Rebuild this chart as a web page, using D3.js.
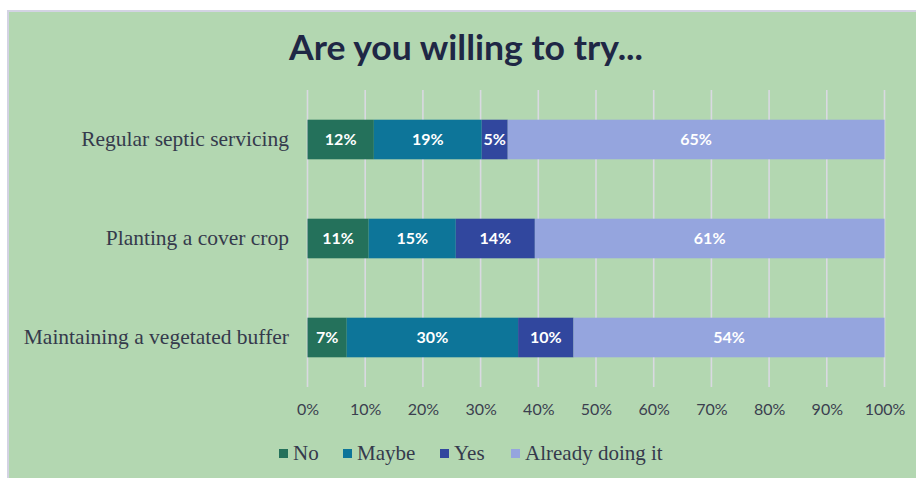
<!DOCTYPE html>
<html><head><meta charset="utf-8">
<script src="https://cdn.jsdelivr.net/npm/d3@7"></script>
<style>html,body{margin:0;padding:0;background:#fff;}svg{display:block;}</style>
</head><body>
<svg id="c" width="916" height="478"></svg>
<script>
const categories = ["Regular septic servicing", "Planting a cover crop", "Maintaining a vegetated buffer"];
const seriesNames = ["No", "Maybe", "Yes", "Already doing it"];
const noVals = [11.5, 10.6, 6.8];
const maybeVals = [18.7, 15.1, 29.7];
const yesVals = [4.5, 13.7, 9.6];
const alreadyVals = [65.3, 60.6, 53.9];
const tickLabels = ["0%","10%","20%","30%","40%","50%","60%","70%","80%","90%","100%"];
const colors = ["#24715b", "#0d7599", "#31479e", "#95a5de"];

const svg = d3.select("#c");
svg.append("rect").attr("x",8).attr("y",11).attr("width",916).attr("height",478)
  .attr("fill","#b3d7b1").attr("stroke","#d3d3e3").attr("stroke-width",2);

svg.append("text").attr("x",466).attr("y",60).attr("text-anchor","middle")
  .attr("font-family","Lato").attr("font-weight","bold").attr("font-size",35)
  .attr("fill","#1f2745").attr("textLength",354).attr("lengthAdjust","spacingAndGlyphs")
  .text("Are you willing to try...");

const x = d3.scaleLinear().domain([0,100]).range([307.5,884.5]);
const y = d3.scaleBand().domain(categories).range([90,387]).paddingInner(0.6).paddingOuter(0.3);

// gridlines
svg.append("g").selectAll("line").data(d3.range(0,101,10)).join("line")
  .attr("x1",d=>x(d)).attr("x2",d=>x(d)).attr("y1",90).attr("y2",387)
  .attr("stroke","#d9d9e1").attr("stroke-width",1.6);

// tick labels via axis
const ax = svg.append("g").attr("transform","translate(0,387)")
  .call(d3.axisBottom(x).tickValues(d3.range(0,101,10)).tickFormat((d,i)=>tickLabels[i]).tickSize(0).tickPadding(17));
ax.select(".domain").remove();
ax.selectAll("text").attr("font-family","Lato").attr("font-size",16).attr("fill","#3b3f4f");

// category labels
const ay = svg.append("g").attr("transform","translate(307,0)")
  .call(d3.axisLeft(y).tickSize(0).tickPadding(18));
ay.select(".domain").remove();
ay.selectAll("text").attr("font-family","Liberation Serif").attr("font-size",21.5).attr("fill","#353a4c");

const rows = categories.map((c,i)=>({cat:c, No:noVals[i], Maybe:maybeVals[i], Yes:yesVals[i], "Already doing it":alreadyVals[i]}));
const stack = d3.stack().keys(seriesNames)(rows);

const g = svg.append("g");
stack.forEach((s,si)=>{
  g.selectAll(null).data(s).join("rect")
    .attr("x",d=>x(d[0])).attr("width",d=>x(d[1])-x(d[0]))
    .attr("y",d=>y(d.data.cat)).attr("height",y.bandwidth())
    .attr("fill",colors[si]);
  g.selectAll(null).data(s).join("text")
    .attr("x",d=>(x(d[0])+x(d[1]))/2).attr("y",d=>y(d.data.cat)+y.bandwidth()/2)
    .attr("dy","0.36em").attr("text-anchor","middle")
    .attr("font-family","Lato").attr("font-weight","bold").attr("font-size",16)
    .attr("fill","#ffffff")
    .text(d=>Math.round(d[1]-d[0])+"%");
});

// legend
const legX = [279, 343, 440, 511];
const lg = svg.append("g");
seriesNames.forEach((n,i)=>{
  lg.append("rect").attr("x",legX[i]).attr("y",449).attr("width",9).attr("height",9).attr("fill",colors[i]);
  lg.append("text").attr("x",legX[i]+14).attr("y",460)
    .attr("font-family","Liberation Serif").attr("font-size",21).attr("fill","#353a4c").text(n);
});
</script>
</body></html>
